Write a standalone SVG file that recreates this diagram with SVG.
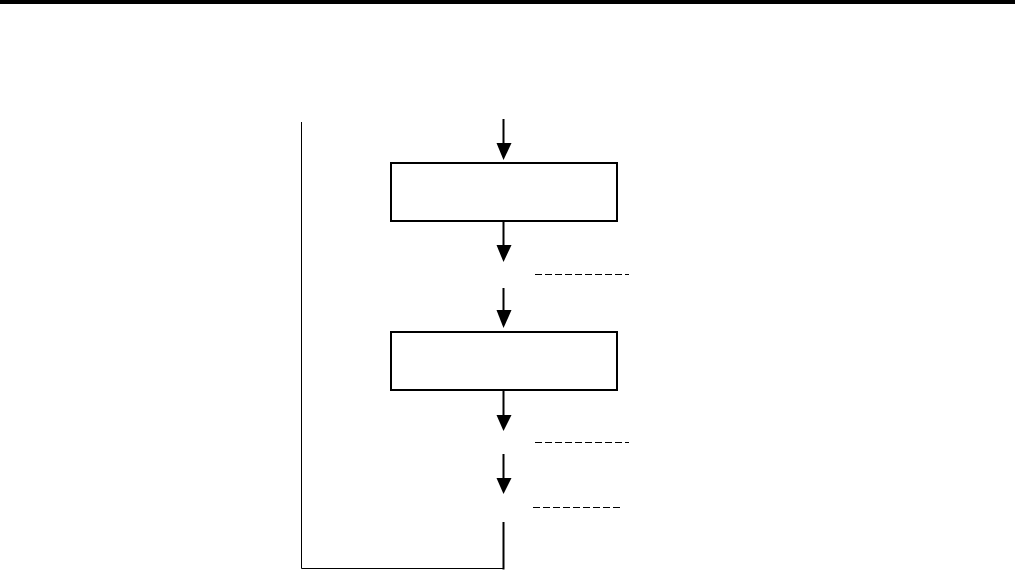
<svg xmlns="http://www.w3.org/2000/svg" width="1015" height="570" viewBox="0 0 1015 570">
<style>
.box{fill:#fff;stroke:#000;stroke-width:2}
.conn{stroke:#000;stroke-width:2;fill:none}
.thin{stroke:#000;stroke-width:1;fill:none}
.dash{stroke:#000;stroke-width:1;fill:none;stroke-dasharray:7 3}
.head{fill:#000}
</style>
<rect x="0" y="0" width="1015" height="4" fill="#000"/>
<g id="connectors">
<line class="conn" x1="503.5" y1="119" x2="503.5" y2="145"/>
<polygon class="head" points="496.5,143 511.5,143 503.5,160"/>
<line class="conn" x1="503.5" y1="222" x2="503.5" y2="247"/>
<polygon class="head" points="496.5,245 511.5,245 503.5,262"/>
<line class="conn" x1="503.5" y1="288" x2="503.5" y2="312"/>
<polygon class="head" points="496.5,310 511.5,310 503.5,328"/>
<line class="conn" x1="503.5" y1="390" x2="503.5" y2="417"/>
<polygon class="head" points="496.5,415 511.5,415 503.5,431"/>
<line class="conn" x1="503.5" y1="454" x2="503.5" y2="480"/>
<polygon class="head" points="496.5,478 511.5,478 503.5,494"/>
<line class="conn" x1="503.5" y1="522" x2="503.5" y2="569.5"/>
<polyline class="thin" points="301.5,122 301.5,568.5 503.5,568.5"/>
<line class="dash" x1="535" y1="274.5" x2="629" y2="274.5"/>
<line class="dash" x1="535" y1="442.5" x2="629" y2="442.5"/>
<line class="dash" x1="533" y1="507.5" x2="620" y2="507.5"/>
</g>
<g id="node1"><rect class="box" x="391" y="163" width="226" height="58"/></g>
<g id="node2"><rect class="box" x="391" y="332" width="226" height="58"/></g>
</svg>
